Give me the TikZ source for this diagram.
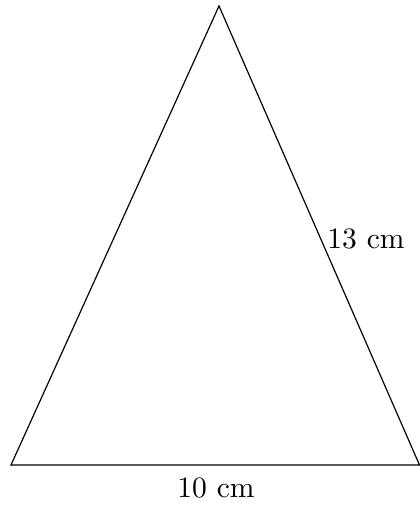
\documentclass[tikz,border=0pt]{standalone}
\begin{document}
\begin{tikzpicture}[x=0.338pt,y=-0.338pt,lbl/.style={inner sep=0pt}]
\useasboundingbox (0,0) rectangle (419,529);
\coordinate (A) at (11,465);
\coordinate (B) at (419.5,465);
\coordinate (C) at (219,6);
\draw (A) -- (B) -- (C) -- cycle;
\node[lbl] (base) at (216,488) {10 cm};
\node[lbl] (side) at (366,239) {13 cm};
\end{tikzpicture}
\end{document}
